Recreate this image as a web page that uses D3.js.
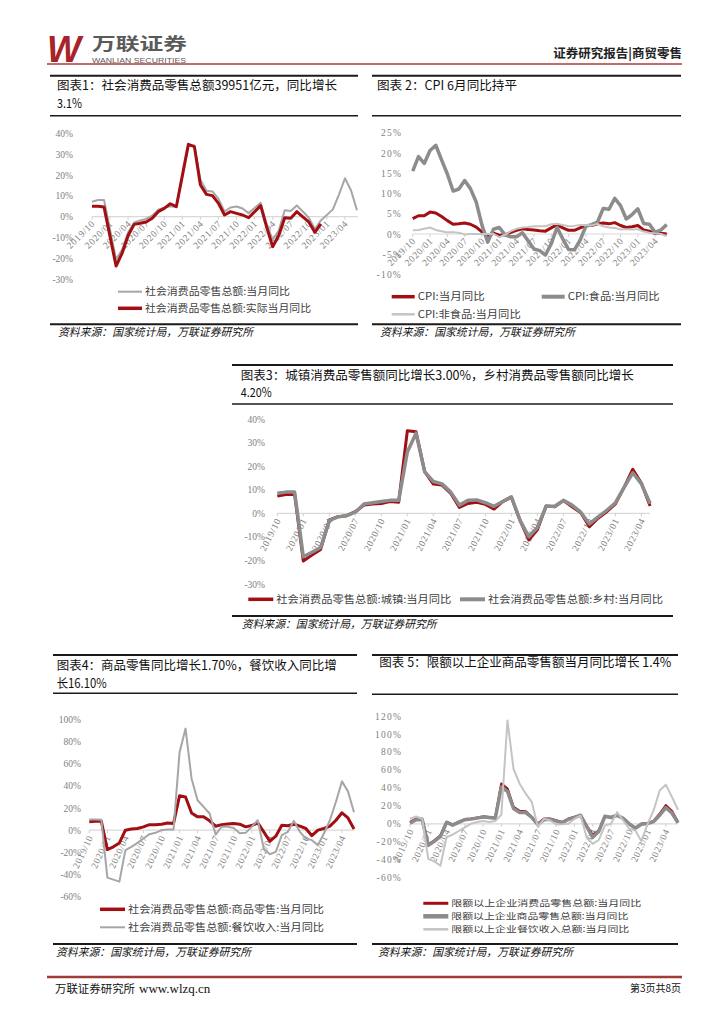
<!DOCTYPE html>
<html><head><meta charset="utf-8">
<script src="https://cdn.jsdelivr.net/npm/d3@7/dist/d3.min.js"></script>
<style>body{margin:0;background:#fff}svg{display:block}</style>
</head><body>
<svg id="c" width="724" height="1024"></svg>
<script>
// ---------- DATA ----------
const months = ["2019/10","2019/11","2019/12",
"2020/01","2020/02","2020/03","2020/04","2020/05","2020/06","2020/07","2020/08","2020/09","2020/10","2020/11","2020/12",
"2021/01","2021/02","2021/03","2021/04","2021/05","2021/06","2021/07","2021/08","2021/09","2021/10","2021/11","2021/12",
"2022/01","2022/02","2022/03","2022/04","2022/05","2022/06","2022/07","2022/08","2022/09","2022/10","2022/11","2022/12",
"2023/01","2023/02","2023/03","2023/04","2023/05","2023/06"];
const xTickLabels = ["2019/10","2020/01","2020/04","2020/07","2020/10","2021/01","2021/04","2021/07","2021/10","2022/01","2022/04","2022/07","2022/10","2023/01","2023/04"];

// Chart 1
const retailTotal = [7.2,8.0,8.0,null,-20.5,-15.8,-7.5,-2.8,-1.8,-1.1,0.5,3.3,4.3,5.0,4.6,null,33.8,34.2,17.7,12.4,12.1,8.5,2.5,4.4,4.9,3.9,1.7,null,6.7,-3.5,-11.1,-6.7,3.1,2.7,5.4,2.5,-0.5,-5.9,-1.8,null,3.5,10.6,18.4,12.7,3.1];
const retailReal = [5.0,5.0,4.6,null,-23.7,-17.5,-9.0,-3.7,-3.2,-2.6,-0.8,2.4,4.0,6.2,4.8,null,34.7,33.6,15.2,10.7,10.1,6.4,0.8,2.4,1.6,0.8,-0.5,null,5.3,-5.0,-14.4,-9.0,-0.5,-0.8,2.4,-0.1,-2.5,-7.5,-3.5];
const yTicks1 = [40,30,20,10,0,-10,-20,-30];

// Chart 2
const cpiAll = [3.8,4.5,4.5,5.4,5.2,4.3,3.3,2.4,2.5,2.7,2.4,1.7,0.5,-0.5,0.2,-0.3,-0.2,0.4,0.9,1.3,1.1,1.0,0.8,0.7,1.5,2.3,1.5,0.9,0.9,1.5,2.1,2.1,2.5,2.7,2.5,2.8,2.1,1.6,1.8,2.1,1.0,0.7,0.1,0.2,0.0];
const cpiFood = [15.5,19.1,17.4,20.6,21.9,18.3,14.8,10.6,11.1,13.2,11.2,7.9,2.2,-2.0,1.2,1.6,-0.2,-0.7,-0.7,0.3,-1.7,-3.7,-4.1,-5.2,-2.4,1.6,-1.2,-3.8,-3.9,-1.5,1.9,2.3,2.9,6.3,6.1,8.8,7.0,3.7,4.8,6.2,2.6,2.4,0.4,1.0,2.3];
const cpiNonFood = [0.9,1.0,1.3,1.6,1.0,0.7,0.4,0.4,0.3,-0.1,0.0,0.0,0.0,0.0,0.0,-0.8,-0.2,0.7,1.3,1.6,1.7,1.9,1.9,1.9,2.4,2.5,2.2,1.9,2.0,2.2,2.2,2.1,2.5,1.9,1.6,1.5,1.1,1.2,1.1,1.2,0.6,0.3,0.1,0.0,-0.5];
const yTicks2 = [25,20,15,10,5,0,-5,-10];

// Chart 3
const urban = [7.3,8,8,-20.2,-17.7,-15.3,-2.8,-1.4,-1,0.7,3.5,4,4.2,5,4.7,35,34.6,17.7,12.4,12,8.5,2.5,4.2,4.7,3.8,1.8,5,6.8,-3,-11.3,-7,3.1,2.8,5.4,2.8,0.3,-5.7,-2.1,0.7,4,11,18.7,12.7,3.1];
const rural = [8.5,9,9,-18.4,-16.5,-14.5,-3,-1.5,-1,0.5,4,4.5,5,5.5,5.5,26,34,17.6,13.5,12.5,9,3.5,5.5,5.7,4.5,3,5,7,-3,-9.9,-6,3,3,5.5,3.5,0.5,-4.5,-1.5,1.3,4.5,11,17.2,12.5,4.2];
const yTicks3 = [40,30,20,10,0,-10,-20,-30];

// Chart 4
const goodsRetail = [7.5,8,8,-17.5,-15,-11.5,0,1,1.5,3,5,5,5.4,6.5,6,31,30,15.5,12,12,8.4,3.6,5,5.5,6,5.4,3,4.2,6.6,-1.5,-10,-5.4,4.5,4,5.4,3.6,1.5,-5,0,1.5,3.6,9,15.7,11,1];
const catering = [9.6,9.6,9.5,-42.8,-44.6,-46.4,-18,-15,-11.5,-7.5,-3.6,-2.4,0,0.6,0.6,70,91.6,46.4,27,21,15,-4,3.1,3,2,-2.7,-2.3,3,9,-16.6,-21.7,-19.6,-4.5,-1.5,8.4,-1.5,-7.5,-9,-13.5,-3,9,25.6,44,35,16.1];
const yTicks4 = [100,80,60,40,20,0,-20,-40,-60];

// Chart 5
const aboveRetail = [2,5.6,5.6,-23,-18.6,-13,2,-1,2,5,5.6,6.7,8,7.4,6.7,44.7,39,18.6,14.2,13.8,7.4,0,5.6,5.6,3.7,1.9,5.6,7.5,9.7,-1.9,-13,-7.4,8.2,7.4,9.3,5.6,0,-4.5,0,0.7,3,11,20.5,14,2];
const aboveGoods = [0.5,4.5,4.5,-24,-19.5,-14,1.5,-1.5,1.5,4.5,5.2,6.3,7.5,7,6.2,41,36,17,12.5,12.5,7,-1,4.5,5,3,1,5,7,9.5,-3,-15,-8.5,8.5,7,9.5,6,0,-5,-0.5,0.2,2.5,9.5,18,12,1];
const aboveCatering = [5.6,8.2,5.6,-39,-42,-46.5,-15,-12,-8,-4,0,2,3,2,3,10,115,61,44.7,33.5,24.2,-3.7,5.6,3.7,-0.7,-0.5,0,5.6,9.3,-15,-22.3,-18,-1.9,0,13,3.7,-5.6,-7.4,-19.4,0,15,37,43.6,30,15.6];
const yTicks5 = [120,100,80,60,40,20,0,-20,-40,-60];

// ---------- DRAWING ----------
const CJK = "'Noto Sans CJK SC','Noto Sans CJK JP',sans-serif";
const SERIF = "'Liberation Serif','Noto Sans CJK SC',serif";
const RED = "#A20E12", GRAY = "#A6A6A6", DGRAY = "#8C8C8C", LGRAY = "#C4C4C4";
const svg = d3.select("#c");
svg.append("rect").attr("width",724).attr("height",1024).attr("fill","#fff");

function hline(x0,x1,y,w,c){
  svg.append("line").attr("x1",x0).attr("x2",x1).attr("y1",y).attr("y2",y)
    .attr("stroke",c||"#1a1a1a").attr("stroke-width",w);
}
function text(s,x,y,o){
  o=o||{};
  const t=svg.append("text").attr("x",x).attr("y",y).text(s)
    .attr("font-family",o.font||CJK).attr("font-size",o.size||12)
    .attr("fill",o.fill||"#111");
  if(o.len){t.attr("textLength",o.len).attr("lengthAdjust","spacingAndGlyphs");}
  if(o.italic) t.attr("font-style","italic");
  if(o.weight) t.attr("font-weight",o.weight);
  if(o.anchor) t.attr("text-anchor",o.anchor);
  return t;
}

// Header
text("W",47,62,{font:"'Liberation Sans',sans-serif",size:36,weight:"bold",italic:true,fill:"#A8232A",len:34});
text("万联证券",92,50,{size:17,weight:"bold",fill:"#5a5a5a",len:95});
text("WANLIAN SECURITIES",92,63,{font:"'Liberation Sans',sans-serif",size:7.5,fill:"#5a5a5a",len:94});
text("证券研究报告|商贸零售",682,58,{size:12.5,weight:"bold",fill:"#222",anchor:"end"});
hline(47,682,64,1.5,"#B03A3A");

// Footer
hline(47,682,977,2.5,"#A33A3A");
text("万联证券研究所",55,993,{size:11.5,fill:"#111",len:80});
text("www.wlzq.cn",139,993,{font:SERIF,size:13,fill:"#111"});
text("第3页共8页",681,992,{size:10,fill:"#111",anchor:"end"});

function chart(o){
  hline(o.x0,o.x1,o.top,2);
  o.titles.forEach(t=>text(t.s,o.tx,t.y,{size:12.5,len:t.len}));
  hline(o.x0,o.x1,o.under,1.5);
  hline(o.x0,o.x1,o.bottom,2);
  text("资料来源：国家统计局，万联证券研究所",o.srcX,o.bottom+12,{size:11,italic:true,len:195});

  const x=d3.scalePoint().domain(months).range([o.px0,o.px1]);
  const y=d3.scaleLinear().domain([o.ymin,o.ymax]).range([o.yb,o.yt]);

  const ax=d3.axisLeft(y).tickValues(o.yticks).tickSize(0).tickPadding(0).tickFormat(d=>d+"%");
  const ga=svg.append("g").attr("transform",`translate(${o.ylabX},0)`).call(ax);
  ga.select(".domain").remove();
  ga.selectAll("text").attr("font-family",SERIF).attr("font-size",9.5)
    .attr("fill","#808080").attr("letter-spacing",o.ls||0);

  const y0=y(0);
  hline(o.px0,o.zeroEnd,y0,1.2,"#d9d9d9");
  xTickLabels.forEach(l=>{
    const xx=x(l);
    svg.append("line").attr("x1",xx).attr("x2",xx).attr("y1",y0).attr("y2",y0+3)
      .attr("stroke","#d0d0d0").attr("stroke-width",1);
    svg.append("text").text(l).attr("text-anchor","end").attr("dominant-baseline","middle")
      .attr("transform",`translate(${xx+2},${y0+6}) rotate(${o.rot})`)
      .attr("font-family",SERIF).attr("font-size",9.5).attr("fill","#808080")
      .attr("letter-spacing",0.6);
  });

  const line=d3.line().x(d=>x(d.m)).y(d=>y(d.v));
  o.series.forEach(s=>{
    const pts=months.map((m,i)=>({m,v:s.data[i]})).filter(d=>d.v!==null&&d.v!==undefined);
    svg.append("path").datum(pts).attr("d",line).attr("fill","none")
      .attr("stroke",s.color).attr("stroke-width",s.w).attr("stroke-linejoin","round");
  });

  o.legend.forEach(L=>{
    svg.append("line").attr("x1",L.x).attr("x2",L.x+L.sw).attr("y1",L.y).attr("y2",L.y)
      .attr("stroke",L.color).attr("stroke-width",L.w);
    const fs=o.legSize||10;
    text(L.s,L.x+L.sw+3,L.y+fs*0.36,{size:fs,fill:"#404040",len:L.len});
  });
}

// Chart 1
chart({x0:50,x1:358,top:75.7,under:115.7,bottom:324.3,srcX:58,tx:57,
  titles:[{s:"图表1：社会消费品零售总额39951亿元，同比增长",y:90,len:280},{s:"3.1%",y:108.3,len:25}],
  px0:92,px1:357,ymin:-30,ymax:40,yb:279.2,yt:133.3,yticks:yTicks1,ylabX:73,zeroEnd:358,rot:-45,
  series:[{data:retailTotal,color:GRAY,w:2},{data:retailReal,color:RED,w:3}],
  legend:[{x:118,y:291.7,sw:24,color:GRAY,w:2,s:"社会消费品零售总额:当月同比",len:145},
          {x:118,y:308.3,sw:24,color:RED,w:3.5,s:"社会消费品零售总额:实际当月同比",len:166}]
});

// Chart 2
chart({x0:372,x1:681,top:75.7,under:115.7,bottom:324.3,srcX:380,tx:377,
  titles:[{s:"图表 2：CPI  6月同比持平",y:90,len:140}],
  px0:412.7,px1:666.7,ymin:-10,ymax:25,yb:274.5,yt:132.7,yticks:yTicks2,ylabX:402,zeroEnd:668,rot:-45,ls:1.2,
  series:[{data:cpiAll,color:RED,w:3},{data:cpiFood,color:DGRAY,w:3.5},{data:cpiNonFood,color:LGRAY,w:2}],
  legend:[{x:391.7,y:296.7,sw:23,color:RED,w:3.5,s:"CPI:当月同比",len:67},
          {x:541.7,y:296.7,sw:23,color:DGRAY,w:4,s:"CPI:食品:当月同比",len:92},
          {x:391.7,y:314.3,sw:23,color:LGRAY,w:2.5,s:"CPI:非食品:当月同比",len:103}]
});

// Chart 3
chart({x0:232,x1:673,top:365,under:404,bottom:616,srcX:241.7,tx:240.7,
  titles:[{s:"图表3：城镇消费品零售额同比增长3.00%，乡村消费品零售额同比增长",y:380,len:393},{s:"4.20%",y:397.3,len:31}],
  px0:277.3,px1:277.3+44*8.67,ymin:-30,ymax:40,yb:584.1,yt:419,yticks:yTicks3,ylabX:265,zeroEnd:650,rot:-63,
  series:[{data:urban,color:RED,w:3},{data:rural,color:DGRAY,w:3.5}],
  legend:[{x:248.3,y:599.3,sw:25,color:RED,w:3.5,s:"社会消费品零售总额:城镇:当月同比",len:175},
          {x:460,y:599.3,sw:25,color:DGRAY,w:4,s:"社会消费品零售总额:乡村:当月同比",len:175}]
});

// Chart 4
chart({x0:53,x1:357,top:655,under:693.3,bottom:944,srcX:56,tx:56.7,
  titles:[{s:"图表4：商品零售同比增长1.70%，餐饮收入同比增",y:670,len:280},{s:"长16.10%",y:688.3,len:50}],
  px0:89.3,px1:354,ymin:-60,ymax:100,yb:896.7,yt:719.3,yticks:yTicks4,ylabX:81,zeroEnd:355,rot:-65,
  series:[{data:goodsRetail,color:RED,w:3},{data:catering,color:GRAY,w:2}],
  legend:[{x:100,y:909.3,sw:25,color:RED,w:3.5,s:"社会消费品零售总额:商品零售:当月同比",len:196},
          {x:100,y:927.3,sw:25,color:GRAY,w:2,s:"社会消费品零售总额:餐饮收入:当月同比",len:196}]
});

// Chart 5
chart({x0:372,x1:678,top:655,under:694.3,bottom:944,srcX:378,tx:379.3,
  titles:[{s:"图表 5：限额以上企业商品零售额当月同比增长 1.4%",y:667.3,len:292}],
  px0:410,px1:678,ymin:-60,ymax:120,yb:877.7,yt:716,yticks:yTicks5,ylabX:402,zeroEnd:678,rot:-65,ls:1.2,legSize:8.5,
  series:[{data:aboveRetail,color:RED,w:2.5},{data:aboveGoods,color:DGRAY,w:3.5},{data:aboveCatering,color:LGRAY,w:2}],
  legend:[{x:423.3,y:903.3,sw:25,color:RED,w:3,s:"限额以上企业消费品零售总额:当月同比",len:190},
          {x:423.3,y:916.3,sw:25,color:DGRAY,w:4.5,s:"限额以上企业商品零售总额:当月同比",len:177},
          {x:423.3,y:929.3,sw:25,color:LGRAY,w:2.5,s:"限额以上企业餐饮收入总额:当月同比",len:178}]
});
</script>
</body></html>
